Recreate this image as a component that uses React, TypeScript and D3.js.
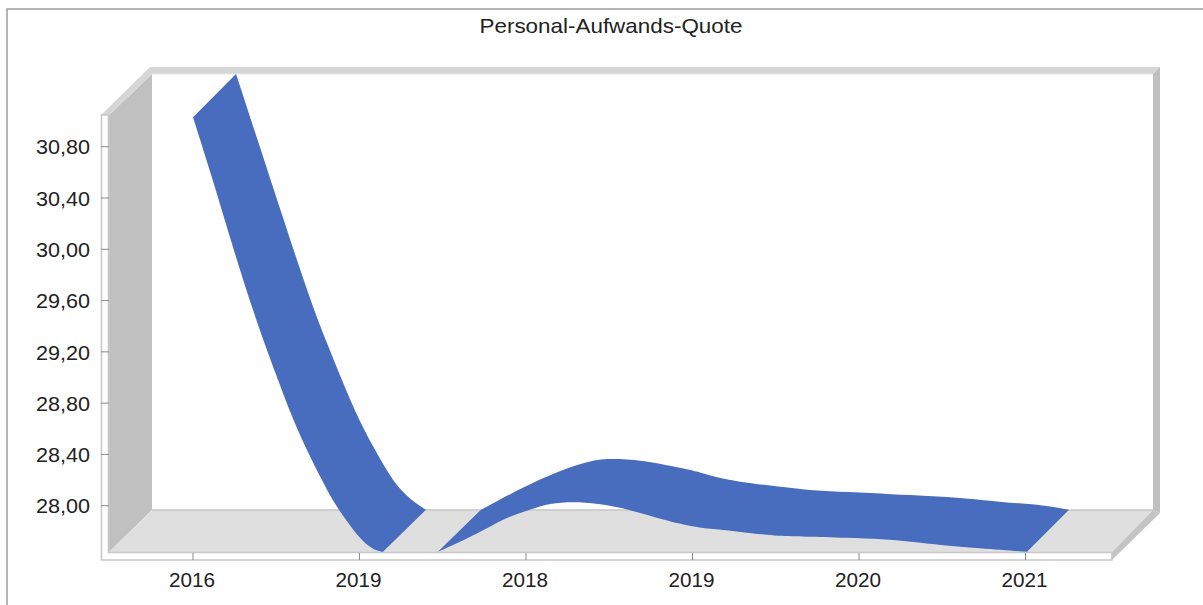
import React, { useEffect, useRef } from "react";
import * as d3 from "d3";

const title = "Personal-Aufwands-Quote";
const categories = ["2016", "2019", "2018", "2019", "2020", "2021"];
const yTicks = [28.0, 28.4, 28.8, 29.2, 29.6, 30.0, 30.4, 30.8];

// Position along the category axis and value of each edge of the ribbon.
const fallFrontPositions = [0, 0.12, 0.222, 0.366, 0.505, 0.6, 0.703, 0.805, 0.883, 0.985, 1.051, 1.105, 1.141];
const fallFrontValues = [31.03, 30.54, 30.09, 29.49, 29.0, 28.67, 28.38, 28.12, 27.95, 27.77, 27.686, 27.647, 27.64];
const fallBackPositions = [0, 0.126, 0.264, 0.444, 0.546, 0.643, 0.745, 0.847, 0.943, 1.045, 1.141];
const fallBackValues = [31.04, 30.54, 29.99, 29.28, 28.94, 28.63, 28.32, 28.08, 27.86, 27.72, 27.64];
const riseFrontPositions = [1.471, 1.724, 1.862, 2.024, 2.144, 2.282, 2.426, 2.625, 2.823, 3.027, 3.123, 3.327, 3.526, 3.664, 3.928, 4.144, 4.306, 4.505, 4.709, 5.009];
const riseFrontValues = [27.64, 27.79, 27.9, 27.97, 28.02, 28.03, 28.02, 27.97, 27.89, 27.83, 27.82, 27.79, 27.76, 27.76, 27.75, 27.74, 27.72, 27.69, 27.67, 27.64];
const riseBackPositions = [1.471, 1.844, 2.126, 2.264, 2.426, 2.667, 2.769, 2.865, 3.009, 3.267, 3.465, 3.67, 3.946, 4.15, 4.39, 4.589, 4.847, 5.003];
const riseBackValues = [27.64, 27.9, 28.03, 28.04, 28.03, 27.97, 27.94, 27.9, 27.86, 27.82, 27.79, 27.78, 27.76, 27.75, 27.73, 27.7, 27.68, 27.64];

const depthX = 43;
const depthY = -42;

export default function App() {
  const ref = useRef<SVGSVGElement | null>(null);
  useEffect(() => {
    document.body.style.margin = "0";
    const svg = d3.select(ref.current);
    svg.selectAll("*").remove();

    const x = d3.scaleLinear().domain([0, 5]).range([193, 1025.5]);
    const y = d3.scaleLinear().domain([28, 30.8]).range([505.7, 146.7]);
    const font = "'Liberation Sans', Arial, sans-serif";

    svg.append("rect").attr("x", 7).attr("y", 9).attr("width", 1300).attr("height", 700)
      .attr("fill", "#fff").attr("stroke", "#a3a3a3").attr("stroke-width", 1.6);

    const poly = (pts: [number, number][], fill: string, stroke = "none", sw = 0) =>
      svg.append("polygon").attr("points", pts.map((p) => p.join(",")).join(" "))
        .attr("fill", fill).attr("stroke", stroke).attr("stroke-width", sw);

    // walls and floor
    poly([[152, 74], [1153, 74], [1153, 510], [152, 510]], "#ffffff");
    poly([[109, 115], [152, 74], [152, 510], [109, 552]], "#c0c0c0");
    poly([[109, 552], [152, 510], [1153, 510], [1112, 552]], "#dfdfdf");
    // bevels
    poly([[101, 115], [150, 67], [1160, 67], [1153, 74], [152, 74], [109, 115]], "#d6d6d6");
    poly([[1153, 74], [1160, 67], [1160, 513], [1153, 510]], "#c0c0c0");
    poly([[1112, 552], [1153, 510], [1160, 513], [1112, 560]], "#c4c4c4");
    // front strips
    poly([[101.5, 115], [108.5, 115], [108.5, 552.5], [1112, 552.5], [1112, 560], [101.5, 560]], "#ffffff", "#c8c8c8", 1.6);
    svg.append("line").attr("x1", 152).attr("x2", 1153).attr("y1", 510).attr("y2", 510).attr("stroke", "#c6c6c6").attr("stroke-width", 1.5);
    svg.append("line").attr("x1", 152).attr("x2", 1153).attr("y1", 74).attr("y2", 74).attr("stroke", "#e8e8e8").attr("stroke-width", 1);

    // ribbon
    const line = d3.line<[number, number]>().x((d) => d[0]).y((d) => d[1]).curve(d3.curveBasis);
    const ribbon = (fp: number[], fv: number[], bp: number[], bv: number[]) => {
      const front = fp.map((p, i) => [x(p), y(fv[i])] as [number, number]);
      const back = bp.map((p, i) => [x(p) + depthX, y(bv[i]) + depthY] as [number, number]).reverse();
      svg.append("path").attr("d", line(front) + "L" + (line(back) as string).slice(1) + "Z").attr("fill", "#486cbe");
    };
    ribbon(fallFrontPositions, fallFrontValues, fallBackPositions, fallBackValues);
    ribbon(riseFrontPositions, riseFrontValues, riseBackPositions, riseBackValues);

    // y axis
    yTicks.forEach((t) => {
      svg.append("line").attr("x1", 101).attr("x2", 109).attr("y1", y(t)).attr("y2", y(t)).attr("stroke", "#8a8a8a").attr("stroke-width", 1);
      svg.append("text").attr("x", 90).attr("y", y(t) + 0.5).attr("dy", "0.36em").attr("text-anchor", "end")
        .attr("font-family", font).attr("font-size", 20).attr("fill", "#222")
        .attr("textLength", 54).attr("lengthAdjust", "spacingAndGlyphs")
        .text(d3.format(".2f")(t).replace(".", ","));
    });
    // x axis
    categories.forEach((c, i) => {
      svg.append("line").attr("x1", x(i)).attr("x2", x(i)).attr("y1", 553).attr("y2", 560).attr("stroke", "#8a8a8a").attr("stroke-width", 1);
      svg.append("text").attr("x", x(i) - 1).attr("y", 580).attr("dy", "0.36em").attr("text-anchor", "middle")
        .attr("font-family", font).attr("font-size", 20).attr("fill", "#222")
        .attr("textLength", 46).attr("lengthAdjust", "spacingAndGlyphs").text(c);
    });
    svg.append("text").attr("x", 611).attr("y", 25).attr("dy", "0.36em").attr("text-anchor", "middle")
      .attr("font-family", font).attr("font-size", 21).attr("fill", "#222")
      .attr("textLength", 263).attr("lengthAdjust", "spacingAndGlyphs").text(title);
  }, []);
  return <svg ref={ref} width={1203} height={605} style={{ display: "block" }} />;
}
